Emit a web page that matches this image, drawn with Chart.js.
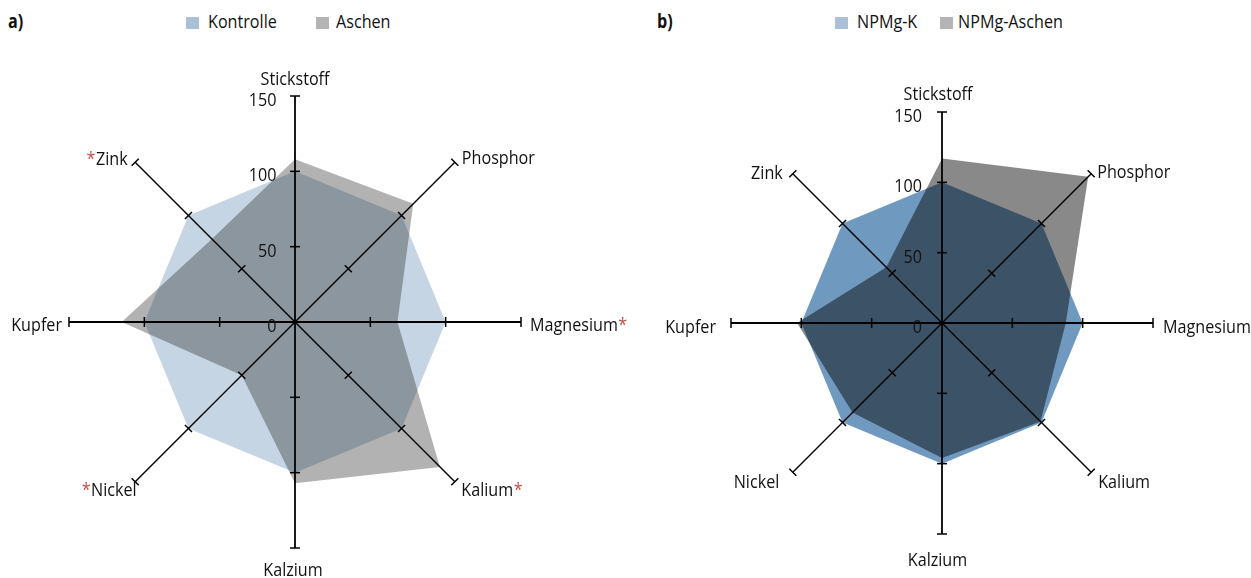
<!DOCTYPE html>
<html>
<head>
<meta charset="utf-8">
<script src="https://cdn.jsdelivr.net/npm/chart.js@4/dist/chart.umd.min.js"></script>
<style>
  html, body { margin: 0; padding: 0; background: #fff; }
  body {
    width: 1251px; height: 578px; position: relative; overflow: hidden;
    font-family: "Open Sans", "Noto Sans", sans-serif;
    color: #111;
  }
  canvas { position: absolute; top: 0; }
  #chartA { left: 0; }
  #chartB { left: 645px; }
  .txt {
    position: absolute; top: 11px; font-size: 19px; line-height: 20px; white-space: nowrap;
    transform: scaleX(0.85); transform-origin: 0 0;
  }
  .panel { font-weight: bold; }
  .sw { position: absolute; top: 17px; width: 13px; height: 12px; }
</style>
</head>
<body>
  <div class="txt panel" style="left:8px">a)</div>
  <div class="sw" style="left:186px;background:#a9c0d6"></div>
  <div class="txt" style="left:208px">Kontrolle</div>
  <div class="sw" style="left:316px;background:#b4b4b4"></div>
  <div class="txt" style="left:336px">Aschen</div>

  <div class="txt panel" style="left:657px">b)</div>
  <div class="sw" style="left:835px;background:#a9c0d6"></div>
  <div class="txt" style="left:857px">NPMg-K</div>
  <div class="sw" style="left:940px;background:#b4b4b4"></div>
  <div class="txt" style="left:958px">NPMg-Aschen</div>

  <canvas id="chartA" width="645" height="578"></canvas>
  <canvas id="chartB" width="606" height="578"></canvas>

<script>
// Nutrient axes, clockwise from the top
const nutrients = ['Stickstoff', 'Phosphor', 'Magnesium', 'Kalium', 'Kalzium', 'Nickel', 'Kupfer', 'Zink'];

// Relative contents (%), panel a
const kontrolle = [100, 100, 100, 100, 100, 100, 100, 100];
const aschen    = [108, 111, 68, 136, 107, 50, 115, 78];
// significant differences in panel a (marked with a red asterisk)
const significantA = [false, false, true, true, false, true, false, true];

// Relative contents (%), panel b
const npmgK      = [100, 100, 100, 100, 100, 100, 100, 100];
const npmgAschen = [117, 147, 88, 99, 96, 90, 103, 56];
const significantB = [false, false, false, false, false, false, false, false];

// Axis ticks
const tickValues = [0, 50, 100, 150];

const FONT = '19px "Open Sans", "Noto Sans", sans-serif';
const SX = 0.85; // horizontal condensing of all chart text

// draws text condensed horizontally around its anchor; returns drawn width
function condensedText(ctx, str, x, y, align) {
  ctx.save();
  ctx.translate(x, y);
  ctx.scale(SX, 1);
  ctx.textAlign = align;
  ctx.fillText(str, 0, 0);
  const w = ctx.measureText(str).width * SX;
  ctx.restore();
  return w;
}

// Draws tick marks across every axis, the value labels on the top axis
// and the nutrient names at the axis ends.
const axisDecor = {
  id: 'axisDecor',
  afterDraw(chart, args, opts) {
    const s = chart.scales.r;
    const ctx = chart.ctx;
    const n = chart.data.labels.length;
    ctx.save();
    ctx.strokeStyle = '#000';
    ctx.lineWidth = 1.5;
    const h = 5;
    for (let i = 0; i < n; i++) {
      const a = s.getIndexAngle(i) - Math.PI / 2;
      const px = -Math.sin(a), py = Math.cos(a);
      for (const v of opts.ticks) {
        if (v === 0) continue;
        const p = s.getPointPositionForValue(i, v);
        ctx.beginPath();
        ctx.moveTo(p.x + px * h, p.y + py * h);
        ctx.lineTo(p.x - px * h, p.y - py * h);
        ctx.stroke();
      }
    }

    ctx.font = FONT;
    ctx.fillStyle = '#111';
    ctx.textBaseline = 'middle';
    for (const v of opts.ticks) {
      const d = s.getDistanceFromCenterForValue(v);
      condensedText(ctx, String(v), s.xCenter + opts.tickDx, s.yCenter - d + opts.tickDy, 'right');
    }

    ctx.textBaseline = 'alphabetic';
    const maxV = s.max;
    chart.data.labels.forEach((label, i) => {
      const p = s.getPointPositionForValue(i, maxV);
      const [dx, dy, align] = opts.labelPos[i];
      const x = p.x + dx, y = p.y + dy;
      ctx.fillStyle = '#111';
      const w = condensedText(ctx, label, x, y, align);
      if (opts.stars[i]) {
        ctx.fillStyle = '#c0504d';
        if (align === 'right') {
          condensedText(ctx, '*', x - w - 0.5, y, 'right');
        } else {
          condensedText(ctx, '*', (align === 'center' ? x + w / 2 : x + w) + 0.5, y, 'left');
        }
      }
    });
    ctx.restore();
  }
};

function radar(canvasId, series, padding, decor) {
  return new Chart(document.getElementById(canvasId), {
    type: 'radar',
    data: {
      labels: nutrients,
      datasets: series.map(sr => ({
        label: sr.label,
        data: sr.data,
        backgroundColor: sr.color,
        borderWidth: 0,
        fill: true,
        pointRadius: 0,
        pointHoverRadius: 0,
        order: sr.order
      }))
    },
    options: {
      responsive: false,
      maintainAspectRatio: false,
      animation: false,
      events: [],
      layout: { padding },
      elements: { line: { tension: 0, borderWidth: 0 } },
      scales: {
        r: {
          min: 0,
          max: 150,
          startAngle: 0,
          ticks: { display: false, stepSize: 50, z: 1 },
          // axis lines are part of the grid layer; lift it above the filled areas
          grid: { display: false, z: 1 },
          pointLabels: { display: false },
          angleLines: {
            display: true,
            color: '#000',
            lineWidth: ctx => (ctx.index % 2 === 0 ? 1.8 : 1.4)
          }
        }
      },
      plugins: {
        legend: { display: false },
        tooltip: { enabled: false },
        axisDecor: decor
      }
    },
    plugins: [axisDecor]
  });
}

radar('chartA', [
  { label: 'Kontrolle', data: kontrolle, color: '#c6d5e3', order: 1 },
  { label: 'Aschen', data: aschen, color: 'rgba(20,20,20,0.33)', order: 0 }
], { left: 69, right: 124, top: 96, bottom: 30 }, {
  ticks: tickValues,
  tickDx: -18.5,
  tickDy: 4.5,
  stars: significantA,
  labelPos: [
    [0, -11, 'center'],
    [7, 2, 'left'],
    [9, 9, 'left'],
    [6.5, 14, 'left'],
    [-2, 27.5, 'center'],
    [1.5, 14, 'right'],
    [-7, 9, 'right'],
    [-7.5, 3, 'right']
  ]
});

radar('chartB', [
  { label: 'NPMg-K', data: npmgK, color: '#7099bf', order: 1 },
  { label: 'NPMg-Aschen', data: npmgAschen, color: 'rgba(3,3,3,0.465)', order: 0 }
], { left: 86, right: 98, top: 112, bottom: 44 }, {
  ticks: tickValues,
  tickDx: -20,
  tickDy: 4.5,
  stars: significantB,
  labelPos: [
    [-4, -12, 'center'],
    [6, 3.7, 'left'],
    [10, 10, 'left'],
    [7, 15.5, 'left'],
    [-4.5, 32, 'center'],
    [-13.5, 15.5, 'right'],
    [-15, 10, 'right'],
    [-10, 5, 'right']
  ]
});
</script>
</body>
</html>
